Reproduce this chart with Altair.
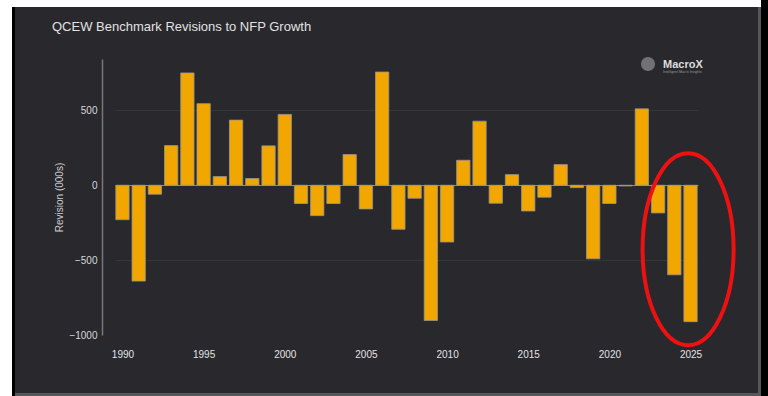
import altair as alt
import pandas as pd

years = list(range(1990, 2026))
revisions = [-230, -640, -60, 265, 750, 545, 58, 435, 45, 263,
             473, -122, -203, -122, 205, -158, 756, -294, -87, -903,
             -379, 167, 428, -120, 71, -172, -80, 138, -16, -491,
             -122, -5, 510, -185, -598, -911]
y_ticks = [-1000, -500, 0, 500]
x_ticks = [1990, 1995, 2000, 2005, 2010, 2015, 2020, 2025]
title_text = "QCEW Benchmark Revisions to NFP Growth"
y_title = "Revision (000s)"
logo_text = "MacroX"
highlight_year = [2024.85]
highlight_value = [-428]

df = pd.DataFrame({"year": years, "revision": revisions})
FONT = "Arial, Liberation Sans, sans-serif"
BG = "#28282d"

xscale = alt.Scale(domain=[1989.54, 2025.46], nice=False, zero=False)
yscale = alt.Scale(domain=[-1000, 843], nice=False)

bars = alt.Chart(df).transform_calculate(
    x0="datum.year - 0.41", x1="datum.year + 0.41"
).mark_bar(color="#F2A600", stroke="#9a958a", strokeWidth=0.8).encode(
    x=alt.X("x0:Q", scale=xscale,
            axis=alt.Axis(values=x_ticks, format="d", title=None, domain=False,
                          ticks=False, grid=False, labelPadding=14,
                          labelColor="#e4e4e4", labelFontSize=10, labelFont=FONT)),
    x2="x1:Q",
    y=alt.Y("revision:Q", scale=yscale,
            axis=alt.Axis(values=y_ticks, format="d", title=y_title, offset=13,
                          domain=True, domainColor="#77777c", domainWidth=1.5,
                          ticks=False, labelPadding=5, labelColor="#d8d8d8",
                          labelFontSize=10, labelFont=FONT,
                          titleColor="#cfcfcf", titleFontSize=10, titleFont=FONT,
                          titleFontWeight="normal", titlePadding=4,
                          grid=True,
                          gridColor={"condition": [
                              {"test": "datum.value === 0", "value": "#8a8a8a"},
                              {"test": "datum.value === -1000", "value": BG}],
                              "value": "#2f3a34"},
                          gridWidth=1)),
    y2=alt.datum(0),
)

ell = pd.DataFrame({"x": highlight_year, "y": highlight_value})
ellipse = alt.Chart(ell).mark_point(
    shape="M -0.474 0 A 0.474 1 0 1 1 0.474 0 A 0.474 1 0 1 1 -0.474 0 Z",
    filled=False, stroke="#ee1111", strokeWidth=4, size=192 * 192, opacity=1
).encode(x=alt.X("x:Q", scale=xscale), y=alt.Y("y:Q", scale=yscale))

title = alt.Chart(pd.DataFrame({"t": [title_text]})).mark_text(
    font=FONT, fontSize=13, color="#e2e2e2", align="left", baseline="middle"
).encode(text="t:N", x=alt.value(-63), y=alt.value(-32))

logo = alt.Chart(pd.DataFrame({"t": [logo_text]})).mark_text(
    font=FONT, fontSize=11, fontWeight="bold", color="#dddddd", align="left", baseline="middle"
).encode(text="t:N", x=alt.value(548), y=alt.value(6))
logo_sub = alt.Chart(pd.DataFrame({"t": ["Intelligent Macro Insights"]})).mark_text(
    font=FONT, fontSize=3.5, color="#999999", align="left", baseline="middle"
).encode(text="t:N", x=alt.value(548), y=alt.value(13))
logo_icon = alt.Chart(pd.DataFrame({"t": ["i"]})).mark_point(
    shape="circle", filled=True, color="#7a7a7e", size=200, opacity=0.9
).encode(x=alt.value(533), y=alt.value(5))

# frame decoration around the card
frame_df = pd.DataFrame({"k": ["top", "left", "leftb", "rightg", "rightb", "bottom"]})
def frame(x, x2, y, y2, color, k):
    return alt.Chart(frame_df).transform_filter(f"datum.k == '{k}'").mark_rect(
        color=color).encode(x=alt.value(x), x2=alt.value(x2), y=alt.value(y), y2=alt.value(y2))

frames = [
    frame(-115, 653, -59, -52, "#ffffff", "top"),
    frame(-115, -103, -59, 337, "#ffffff", "left"),
    frame(-103, -100, -52, 337, "#000000", "leftb"),
    frame(643, 646, -52, 337, "#55575a", "rightg"),
    frame(646, 653, -59, 337, "#000000", "rightb"),
    frame(-100, 646, 334, 337, "#55575a", "bottom"),
]

chart = alt.layer(bars, ellipse, title, logo_icon, logo, logo_sub, *frames).properties(
    width=583, height=276,
    background=BG,
    padding={"left": 115, "top": 59, "right": 70, "bottom": 61},
    autosize=alt.AutoSizeParams(type="none"),
).configure_view(stroke=None)

chart.save("out.html", embed_options={"renderer": "svg", "actions": False})
